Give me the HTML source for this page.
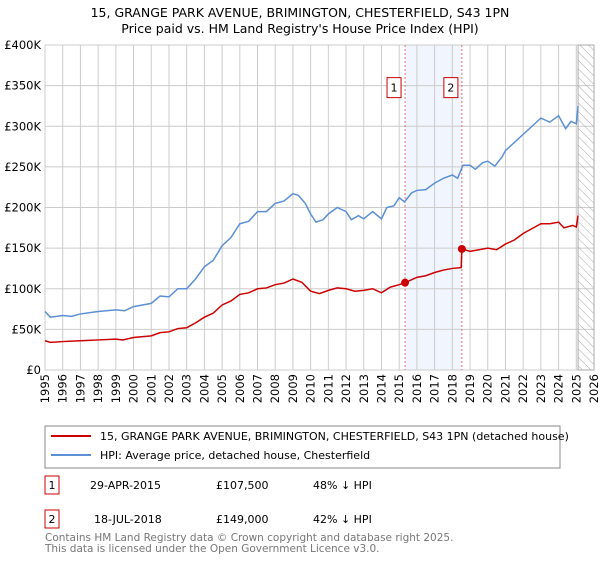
<!DOCTYPE html>
<html><head><meta charset="utf-8"><style>
body{margin:0;width:600px;height:560px;background:#fff;font-family:"Liberation Sans","DejaVu Sans",sans-serif;overflow:hidden}
svg text{font-family:"DejaVu Sans","Liberation Sans",sans-serif}
</style></head><body>
<svg id="c" width="600" height="560">
<text x="300" y="17" text-anchor="middle" font-size="12.5">15, GRANGE PARK AVENUE, BRIMINGTON, CHESTERFIELD, S43 1PN</text>
<text x="300" y="33" text-anchor="middle" font-size="12.5">Price paid vs. HM Land Registry's House Price Index (HPI)</text>
<g id="plot"></g>
<rect x="45" y="426" width="515" height="42" fill="none" stroke="#888"/>
<line x1="51" y1="436" x2="91" y2="436" stroke="#cc0000" stroke-width="2"/>
<text x="100" y="440" font-size="11">15, GRANGE PARK AVENUE, BRIMINGTON, CHESTERFIELD, S43 1PN (detached house)</text>
<line x1="51" y1="455" x2="91" y2="455" stroke="#5b8fd6" stroke-width="2"/>
<text x="100" y="459" font-size="11">HPI: Average price, detached house, Chesterfield</text>
<rect x="45" y="476" width="14" height="18" fill="none" stroke="#cc0000"/>
<text x="52" y="489" font-size="11" text-anchor="middle">1</text>
<text x="90" y="489" font-size="11">29-APR-2015</text>
<text x="216" y="489" font-size="11">£107,500</text>
<text x="313" y="489" font-size="11">48% ↓ HPI</text>
<rect x="45" y="510" width="14" height="18" fill="none" stroke="#cc0000"/>
<text x="52" y="523" font-size="11" text-anchor="middle">2</text>
<text x="94" y="523" font-size="11">18-JUL-2018</text>
<text x="216" y="523" font-size="11">£149,000</text>
<text x="313" y="523" font-size="11">42% ↓ HPI</text>
<text x="45" y="541" font-size="10.5" fill="#777">Contains HM Land Registry data © Crown copyright and database right 2025.</text>
<text x="45" y="552" font-size="10.5" fill="#777">This data is licensed under the Open Government Licence v3.0.</text>
</svg>
<script>
const hpiX=[1995,1995.3,1996,1996.5,1997,1998,1999,1999.5,2000,2000.5,2001,2001.5,2002,2002.5,2003,2003.5,2004,2004.5,2005,2005.5,2006,2006.5,2007,2007.5,2008,2008.5,2009,2009.3,2009.7,2010,2010.3,2010.7,2011,2011.5,2012,2012.3,2012.7,2013,2013.5,2014,2014.3,2014.7,2015,2015.3,2015.7,2016,2016.5,2017,2017.5,2018,2018.3,2018.6,2019,2019.3,2019.7,2020,2020.4,2020.8,2021,2021.5,2022,2022.5,2023,2023.5,2024,2024.4,2024.7,2025,2025.1];
const hpiY=[72,65,67,66,69,72,74,73,78,80,82,91,90,100,100,112,127,135,153,163,180,183,195,195,205,208,217,215,205,192,182,185,192,200,195,185,190,186,195,186,200,202,212,207,218,221,222,230,236,240,236,252,252,247,255,257,251,262,270,280,290,300,310,305,313,297,306,303,325];
const ppX=[1995,1995.3,1996,1997,1998,1999,1999.4,2000,2001,2001.5,2002,2002.5,2003,2003.5,2004,2004.5,2005,2005.5,2006,2006.5,2007,2007.5,2008,2008.5,2009,2009.5,2010,2010.5,2011,2011.5,2012,2012.5,2013,2013.5,2014,2014.5,2015,2015.33,2016,2016.5,2017,2017.5,2018,2018.5,2018.54,2019,2019.5,2020,2020.5,2021,2021.5,2022,2022.5,2023,2023.5,2024,2024.3,2024.8,2025,2025.1];
const ppY=[36,34,35,36,37,38,37,40,42,46,47,51,52,58,65,70,80,85,93,95,100,101,105,107,112,108,97,94,98,101,100,97,98,100,95,102,105,107.5,114,116,120,123,125,126,149,146,148,150,148,155,160,168,174,180,180,182,175,178,176,190];
const saleX=[2015.33,2018.54];
const saleY=[107.5,149];
const saleLabels=["1","2"];
const yTicks=[0,50,100,150,200,250,300,350,400];
const NS="http://www.w3.org/2000/svg";
const X0=45,X1=594,Y0=370,Y1=45;
const sx=y=>X0+(y-1995)/31*(X1-X0);
const sy=v=>Y0-v/400*(Y0-Y1);
const g=document.getElementById('plot');
function mk(t,a){const e=document.createElementNS(NS,t);for(const k in a)e.setAttribute(k,a[k]);g.appendChild(e);return e;}
let e=mk('rect',{x:sx(saleX[0]),y:Y1,width:sx(saleX[1])-sx(saleX[0]),height:Y0-Y1,fill:'#eef3fc',opacity:0.8});


for(let y=1995;y<=2026;y++){
 e=mk('line',{x1:sx(y),x2:sx(y),y1:Y1,y2:Y0,stroke:'#ccc'});
 
 
 const t=mk('text',{x:0,y:0,'font-size':11.5,'text-anchor':'end',transform:`translate(${sx(y)+4},${Y0+4}) rotate(-90)`});
 t.textContent=y;
 
 
}
yTicks.forEach(v=>{
 e=mk('line',{x1:X0,x2:X1,y1:sy(v),y2:sy(v),stroke:'#ccc'});
 
 
 const t=mk('text',{x:X0-4,y:sy(v)+4,'font-size':11.5,'text-anchor':'end'});
 t.textContent=v===0?'£0':'£'+v+'K';
 
 
});
// hatched future area
const defs=document.createElementNS(NS,'defs');
defs.innerHTML='<pattern id="h" width="6" height="6" patternUnits="userSpaceOnUse" patternTransform="rotate(-45)"><line x1="0" y1="0" x2="0" y2="6" stroke="#aaa" stroke-width="1"/></pattern>';
g.appendChild(defs);
e=mk('rect',{x:sx(2025.1),y:Y1,width:X1-sx(2025.1),height:Y0-Y1,fill:'url(#h)',stroke:'#aaa'});


saleX.forEach((sxv,i)=>{
 e=mk('line',{x1:sx(sxv),x2:sx(sxv),y1:Y1,y2:Y0,stroke:'#e05050','stroke-dasharray':'2,2','stroke-width':0.8});
 
 
 e=mk('rect',{x:sx(sxv)-18,y:sy(350)-8,width:14,height:20,fill:'#fff',stroke:'#cc0000'});
 
 
 const t=mk('text',{x:sx(sxv)-11,y:sy(350)+6,'font-size':11,'text-anchor':'middle'});
 t.textContent=saleLabels[i];
});
function line(xs,ys,col,name){
 const p=mk('polyline',{points:xs.map((x,i)=>sx(x)+','+sy(ys[i])).join(' '),fill:'none',stroke:col,'stroke-width':1.5});
 
 
}
line(hpiX,hpiY,'#5b8fd6','hpi-line');
line(ppX,ppY,'#cc0000','price-paid-line');
saleX.forEach((x,i)=>{
 const c=mk('circle',{cx:sx(x),cy:sy(saleY[i]),r:4,fill:'#cc0000'});
 
 
});
</script>
</body></html>
